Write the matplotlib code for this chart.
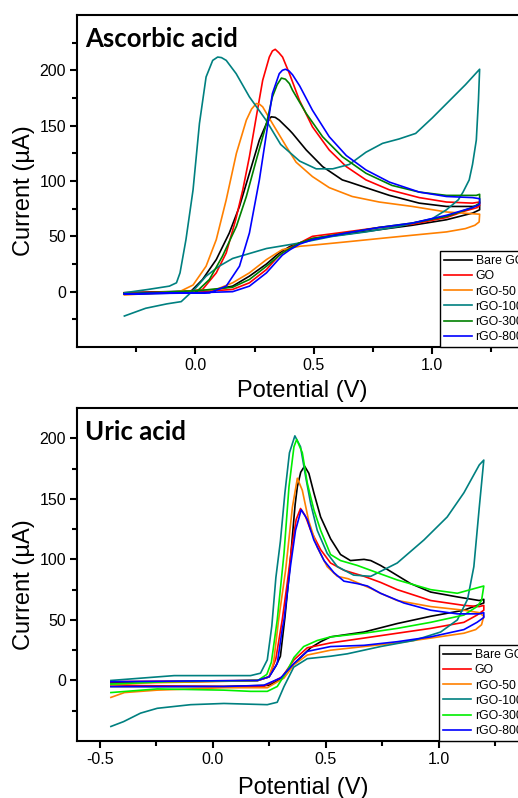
import matplotlib
matplotlib.use('Agg')
import matplotlib.pyplot as plt
from matplotlib.ticker import FixedLocator

plt.rcParams['font.family'] = ['Liberation Sans', 'DejaVu Sans']
plt.rcParams['axes.unicode_minus'] = False

labels = ['Bare GCE', 'GO', 'rGO-50', 'rGO-100', 'rGO-300', 'rGO-800']

# ---- ascorbic acid CVs (potential V, current uA), forward sweep then return ----
aa_bare_v = [-0.30, -0.025, 0.03, 0.088, 0.143, 0.186, 0.228, 0.27, 0.30, 0.32, 0.337, 0.354, 0.397, 0.41,
             0.468, 0.537, 0.62, 0.65, 0.72, 0.819, 0.945, 1.06, 1.17, 1.20,
             1.20, 1.17, 1.06, 0.916, 0.776, 0.637, 0.494, 0.40, 0.354, 0.30, 0.228, 0.157, 0.06, -0.30]
aa_bare_i = [-1, -1, 11, 29, 53, 77, 107, 137, 152, 158, 157.5, 155, 146, 143,
             128, 113, 101, 99, 94, 87, 80, 77, 77, 78,
             74, 71, 65, 60, 56, 52, 48, 41, 35, 25, 14, 5, 1, -1]

aa_go_v = [-0.30, -0.10, 0.03, 0.088, 0.13, 0.17, 0.20, 0.228, 0.257, 0.284, 0.312, 0.325, 0.337, 0.352,
           0.368, 0.397, 0.439, 0.494, 0.565, 0.637, 0.72, 0.819, 0.945, 1.06, 1.17, 1.20,
           1.20, 1.19, 1.14, 1.06, 0.916, 0.776, 0.637, 0.494, 0.44, 0.40, 0.354, 0.30, 0.228, 0.157,
           0.017, -0.30]
aa_go_i = [-2, -1, 2, 17, 35, 65, 92, 122, 158, 191, 212, 217.5, 219, 216,
           212, 197, 173, 149, 128, 113, 101, 92, 85, 81, 80, 81,
           78, 76, 73, 67, 61, 58, 54, 50, 44, 40, 33, 20, 8, 2,
           0, -1]

aa_r50_v = [-0.30, -0.067, -0.01, 0.045, 0.088, 0.13, 0.173, 0.215, 0.237, 0.257, 0.27, 0.284, 0.325,
            0.384, 0.425, 0.494, 0.565, 0.662, 0.776, 0.916, 1.06, 1.20,
            1.20, 1.198, 1.18, 1.14, 1.06, 0.916, 0.776, 0.637, 0.494, 0.44, 0.367, 0.30, 0.228, 0.157,
            0.088, -0.30]
aa_r50_i = [-2, 0, 6, 23, 47, 83, 125, 155, 165, 170, 169.5, 167, 152,
            131, 117, 104, 94, 86, 81, 77, 72, 70,
            70, 63, 60, 57, 54, 51, 48, 45, 42, 41, 38, 29, 17, 8,
            2, -3]

aa_r100_v = [-0.30, -0.20, -0.11, -0.08, -0.065, -0.04, -0.01, 0.017, 0.045, 0.073, 0.094, 0.11, 0.13,
             0.172, 0.228, 0.298, 0.36, 0.44, 0.51, 0.58, 0.65, 0.72, 0.79, 0.86, 0.93, 1.00, 1.07, 1.14,
             1.20,
             1.195, 1.186, 1.17, 1.156, 1.13, 1.11, 1.06, 1.00, 0.86, 0.72, 0.58, 0.44, 0.30, 0.157,
             0.10, 0.045, 0.0, -0.03, -0.06, -0.12, -0.21, -0.30]
aa_r100_i = [-1, 2, 5, 8, 17, 47, 92, 152, 194, 209, 212, 211.5, 209,
             197, 176, 155, 133, 118, 111, 111, 115, 126, 134, 138, 143, 157, 172, 187,
             201,
             173, 137, 115, 101, 90, 83, 74, 66, 59, 54, 50, 44, 39, 30,
             23, 14, 3, -3, -9, -11, -15, -22]

aa_r300_v = [-0.30, 0.0, 0.059, 0.114, 0.173, 0.215, 0.257, 0.30, 0.325, 0.345, 0.363, 0.38, 0.397, 0.41,
             0.468, 0.537, 0.62, 0.72, 0.83, 0.945, 1.06, 1.186, 1.20,
             1.20, 1.17, 1.06, 0.916, 0.776, 0.637, 0.494, 0.44, 0.367, 0.30, 0.228, 0.157, 0.017, -0.30]
aa_r300_i = [-2, -1, 11, 32, 59, 86, 119, 152, 176, 187, 193, 192, 188, 182,
             161, 140, 122, 107, 96, 90, 87, 87, 88,
             80, 76, 68, 62, 58, 53, 48, 44, 35, 23, 11, 4, 1, -2]

aa_r800_v = [-0.30, 0.06, 0.13, 0.186, 0.228, 0.27, 0.30, 0.325, 0.354, 0.367, 0.38, 0.395, 0.41, 0.44,
             0.494, 0.565, 0.637, 0.72, 0.819, 0.945, 1.06, 1.17, 1.20,
             1.20, 1.17, 1.06, 0.916, 0.776, 0.637, 0.494, 0.44, 0.40, 0.367, 0.30, 0.228, 0.157,
             0.0, -0.30]
aa_r800_i = [-2, -1, 5, 23, 53, 101, 143, 179, 197, 200, 201, 199.5, 196, 186,
             164, 140, 123, 110, 99, 90, 86, 85, 84,
             79, 76, 69, 62, 58, 53, 47, 43, 38, 33, 17, 5, 0,
             -1, -2]

# ---- uric acid CVs ----
ua_bare_v = [-0.45, 0.20, 0.25, 0.28, 0.30, 0.32, 0.34, 0.353, 0.365, 0.375, 0.39, 0.407, 0.426, 0.448,
             0.478, 0.522, 0.566, 0.61, 0.67, 0.70, 0.743, 0.788, 0.876, 0.965, 1.083, 1.18, 1.20,
             1.20, 1.17, 1.112, 0.965, 0.817, 0.67, 0.522, 0.478, 0.434, 0.389, 0.33, 0.30, 0.25,
             0.05, -0.45]
ua_bare_i = [-2, 0, 3, 12, 20, 52, 90, 119, 145, 160, 172, 177, 171, 155,
             135, 117, 104, 99, 100, 99, 95, 90, 80, 73, 69, 66, 67,
             64, 62, 58, 53, 47, 40, 36, 32, 27, 19, 8, 1, -4,
             -5, -5]

ua_go_v = [-0.45, 0.20, 0.25, 0.28, 0.308, 0.33, 0.35, 0.37, 0.389, 0.41, 0.434, 0.478, 0.522, 0.581,
           0.67, 0.743, 0.817, 0.965, 1.112, 1.18, 1.20,
           1.20, 1.17, 1.112, 0.965, 0.817, 0.67, 0.522, 0.419, 0.36, 0.308, 0.226, 0.05, -0.45]
ua_go_i = [-1, 0, 3, 18, 50, 80, 110, 133, 142, 136, 124, 108, 97, 91,
           86, 81, 75, 66, 62, 61, 62,
           58, 54, 48, 43, 39, 35, 31, 27, 17, 3, -5, -5, -4]

ua_r50_v = [-0.45, -0.30, 0.0, 0.20, 0.25, 0.27, 0.292, 0.323, 0.353, 0.375, 0.397, 0.425, 0.463, 0.507,
            0.552, 0.60, 0.65, 0.70, 0.743, 0.817, 0.965, 1.112, 1.18, 1.20,
            1.19, 1.164, 1.112, 0.965, 0.817, 0.67, 0.522, 0.419, 0.36, 0.316, 0.242, 0.05, -0.245,
            -0.39, -0.45]
ua_r50_i = [-4, -2, -1, 0, 3, 15, 50, 91, 143, 167, 157, 132, 110, 94,
            86, 84, 80, 76, 72, 66, 61, 58, 56, 53,
            46, 42, 39, 35, 31, 28, 25, 21, 13, 2, -6, -6, -8,
            -10, -14]

ua_r100_v = [-0.45, -0.17, 0.168, 0.212, 0.242, 0.262, 0.28, 0.30, 0.32, 0.34, 0.364, 0.389, 0.412, 0.434,
             0.463, 0.507, 0.552, 0.624, 0.70, 0.817, 0.935, 1.038, 1.112, 1.18, 1.20,
             1.18, 1.156, 1.128, 1.083, 1.009, 0.89, 0.743, 0.596, 0.522, 0.419, 0.359, 0.316, 0.286,
             0.242, 0.05, -0.097, -0.245, -0.319, -0.394, -0.45]
ua_r100_i = [0, 4, 4, 6, 17, 45, 85, 115, 155, 188, 202, 193, 168, 146,
             124, 105, 94, 87, 86, 97, 116, 135, 155, 178, 182,
             143, 94, 67, 50, 40, 33, 28, 22, 20, 18, 11, -5, -18,
             -20, -19, -20, -23, -27, -34, -38]

ua_r300_v = [-0.45, -0.20, 0.20, 0.24, 0.26, 0.286, 0.316, 0.338, 0.36, 0.372, 0.397, 0.419, 0.448, 0.478,
             0.522, 0.566, 0.64, 0.743, 0.817, 0.965, 1.083, 1.18, 1.20,
             1.19, 1.17, 1.112, 0.965, 0.817, 0.67, 0.522, 0.463, 0.403, 0.36, 0.33, 0.286, 0.242,
             0.168, 0.05, -0.245, -0.45]
ua_r300_i = [-3, -1, 0, 5, 15, 50, 105, 160, 193, 199, 188, 163, 141, 124,
             104, 99, 95, 88, 83, 75, 72, 77, 78,
             66, 61, 54, 48, 43, 39, 36, 33, 28, 19, 8, -5, -9,
             -9, -8, -7, -10]

ua_r800_v = [-0.45, 0.198, 0.25, 0.286, 0.308, 0.316, 0.33, 0.345, 0.367, 0.392, 0.419, 0.448, 0.493,
             0.537, 0.581, 0.64, 0.685, 0.743, 0.846, 0.965, 1.083, 1.18, 1.20,
             1.20, 1.17, 1.112, 0.965, 0.817, 0.67, 0.522, 0.419, 0.36, 0.301, 0.226, 0.05, -0.245, -0.45]
ua_r800_i = [-1, 0, 3, 14, 42, 50, 72, 95, 124, 141, 133, 116, 99,
             89, 82, 80, 78, 72, 64, 58, 55, 55, 56,
             52, 48, 42, 36, 32, 29, 28, 24, 14, 2, -4, -5, -5, -5]

aa_curves = [(aa_bare_v, aa_bare_i), (aa_go_v, aa_go_i), (aa_r50_v, aa_r50_i),
             (aa_r100_v, aa_r100_i), (aa_r300_v, aa_r300_i), (aa_r800_v, aa_r800_i)]
ua_curves = [(ua_bare_v, ua_bare_i), (ua_go_v, ua_go_i), (ua_r50_v, ua_r50_i),
             (ua_r100_v, ua_r100_i), (ua_r300_v, ua_r300_i), (ua_r800_v, ua_r800_i)]

aa_colors = ['#000000', '#ff0000', '#ff8000', '#008080', '#008000', '#0000ff']
ua_colors = ['#000000', '#ff0000', '#ff8000', '#008080', '#00ee00', '#0000ff']

fig = plt.figure(figsize=(5.18, 7.98), dpi=100)
# axes run past the right edge of the figure
ax1 = fig.add_axes([77 / 518, 451 / 798, 450 / 518, 332 / 798])
ax2 = fig.add_axes([77 / 518, 57 / 798, 452 / 518, 333 / 798])


def style_axes(ax, xlim, ylim, xmaj, xmin, ymaj, ymin, title, leg_x, colors, curves):
    for (v, i), c, lab in zip(curves, colors, labels):
        ax.plot(v, i, color=c, lw=1.2, label=lab)
    ax.set_xlim(*xlim)
    ax.set_ylim(*ylim)
    ax.xaxis.set_major_locator(FixedLocator(xmaj))
    ax.xaxis.set_minor_locator(FixedLocator(xmin))
    ax.yaxis.set_major_locator(FixedLocator(ymaj))
    ax.yaxis.set_minor_locator(FixedLocator(ymin))
    ax.set_xticklabels(['%.1f' % t for t in xmaj])
    ax.set_yticklabels(['%d' % t for t in ymaj])
    for s in ax.spines.values():
        s.set_linewidth(1.5)
    ax.tick_params(which='major', direction='out', length=5, width=1.5, labelsize=11.5, pad=3)
    ax.tick_params(which='minor', direction='out', length=3.5, width=1.5)
    ax.set_xlabel('Potential (V)', fontsize=17)
    ax.set_ylabel('Current (µA)', fontsize=17)
    ax.yaxis.set_label_coords(-0.093, 0.47)
    ax.text(0.018, 0.905, title, transform=ax.transAxes, fontsize=18.5, fontweight='bold',
            family='Lato', va='baseline', ha='left')
    leg = ax.legend(loc='lower left', bbox_to_anchor=(leg_x, 0), bbox_transform=ax.get_xaxis_transform(),
                    borderaxespad=0, fontsize=8.8, labelspacing=0.26, handlelength=2.3,
                    handletextpad=0.3, borderpad=0.32, fancybox=False, framealpha=1,
                    edgecolor='black')
    leg.get_frame().set_linewidth(1.0)


style_axes(ax1, (-0.5, 1.4), (-50, 250), [0.0, 0.5, 1.0], [-0.25, 0.25, 0.75, 1.25],
           [0, 50, 100, 150, 200], [-25, 25, 75, 125, 175, 225], 'Ascorbic acid', 1.032,
           aa_colors, aa_curves)
style_axes(ax2, (-0.6, 1.4), (-50, 225), [-0.5, 0.0, 0.5, 1.0], [-0.25, 0.25, 0.75, 1.25],
           [0, 50, 100, 150, 200], [-25, 25, 75, 125, 175], 'Uric acid', 1.002,
           ua_colors, ua_curves)
ax1.xaxis.set_label_coords(0.5, -0.10)
ax2.xaxis.set_label_coords(0.5, -0.107)

fig.savefig('out.png', dpi=100)
